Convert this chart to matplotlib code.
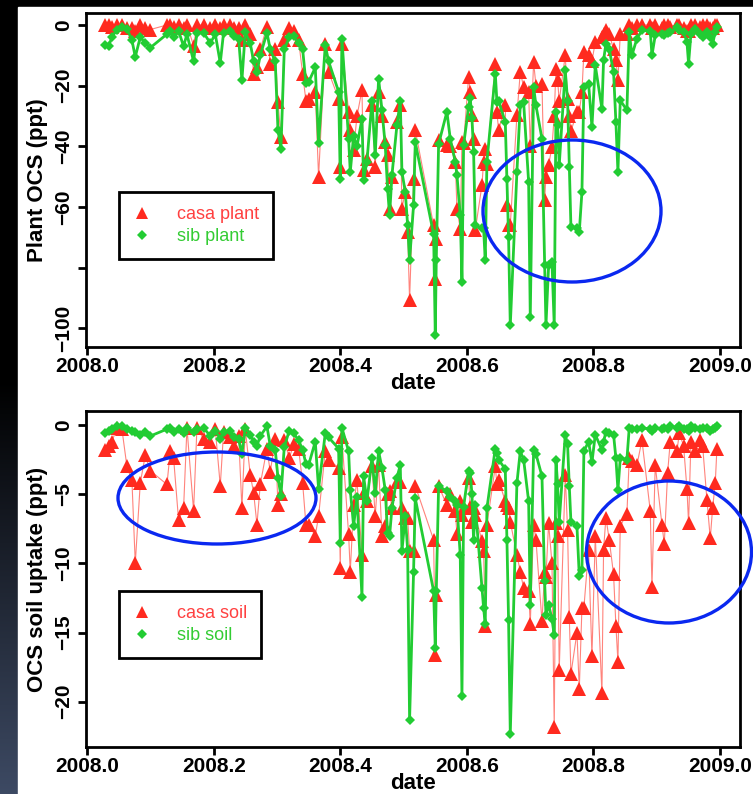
import numpy as np
import matplotlib
matplotlib.use('Agg')
import matplotlib.pyplot as plt
from matplotlib.lines import Line2D
from matplotlib.patches import Ellipse, Rectangle

# ---------------- data ----------------
dates = [
    2008.0285, 2008.0337, 2008.0390, 2008.0469, 2008.0548, 2008.0627, 2008.0706, 2008.0759, 2008.0838, 2008.0917,
    2008.0996, 2008.1260, 2008.1312, 2008.1365, 2008.1444, 2008.1523, 2008.1576, 2008.1681, 2008.1734, 2008.1839,
    2008.1945, 2008.2024, 2008.2103, 2008.2155, 2008.2261, 2008.2314, 2008.2393, 2008.2445, 2008.2498, 2008.2577,
    2008.2630, 2008.2683, 2008.2735, 2008.2841, 2008.2893, 2008.2972, 2008.3015, 2008.3062, 2008.3115, 2008.3194,
    2008.3262, 2008.3341, 2008.3405, 2008.3457,
    2008.3499, 2008.3605, 2008.3657, 2008.3763, 2008.3816, 2008.3974, 2008.4000, 2008.4026, 2008.4132, 2008.4158,
    2008.4211, 2008.4264, 2008.4343, 2008.4369, 2008.4422, 2008.4501, 2008.4553, 2008.4606, 2008.4659, 2008.4711,
    2008.4748, 2008.4780, 2008.4817, 2008.4896, 2008.4949, 2008.4975, 2008.5028, 2008.5065, 2008.5096, 2008.5159,
    2008.5186, 2008.5476, 2008.5502, 2008.5518, 2008.5555, 2008.5686, 2008.5739, 2008.5818, 2008.5845, 2008.5897,
    2008.5924, 2008.5950, 2008.6029, 2008.6055, 2008.6082, 2008.6108, 2008.6134, 2008.6240, 2008.6266, 2008.6292,
    2008.6319, 2008.6451, 2008.6477, 2008.6503, 2008.6609, 2008.6635, 2008.6661, 2008.6688, 2008.6793, 2008.6846,
    2008.6899, 2008.6978, 2008.7004, 2008.7057, 2008.7094, 2008.7189, 2008.7231, 2008.7252, 2008.7294, 2008.7347,
    2008.7383, 2008.7410, 2008.7436, 2008.7462, 2008.7557, 2008.7594, 2008.7621, 2008.7647, 2008.7742, 2008.7779,
    2008.7821, 2008.7852, 2008.7926, 2008.7979, 2008.8032, 2008.8137, 2008.8163, 2008.8200, 2008.8253, 2008.8321,
    2008.8358, 2008.8390, 2008.8427, 2008.8532, 2008.8569, 2008.8611, 2008.8690, 2008.8770, 2008.8901, 2008.8928,
    2008.8980, 2008.9086, 2008.9123, 2008.9175, 2008.9217, 2008.9323, 2008.9360, 2008.9428, 2008.9481, 2008.9507,
    2008.9544, 2008.9613, 2008.9692, 2008.9729, 2008.9797, 2008.9850, 2008.9887, 2008.9929, 2008.9955,
]

plant_casa = [
    0, 0, -0.5, 0, 0, -1, -1, -2, 0, -1,
    -1.5, 0, 0, -0.5, 0, -1, 0, -6.8, 0, 0,
    -1, 0, -1, 0, 0, -1, -1, -5, 0, -3,
    -16, -14, -8, -0.5, -13, -8, -25.4, -37, -5, -1,
    -2, -5, -16, -25,
    -24.3, -22, -50, -6.2, -15.5, -24.3, -46.8, -6.2, -28.7, -34.7,
    -41.3, -30, -21.5, -47.9, -44, -26.5, -46.8, -22, -30, -38.5,
    -42.9, -60.5, -50, -32, -26.5, -60.5, -55, -68.2, -90.7, -50.6,
    -34.7, -66, -83.6, -70.4, -38, -39.6, -40, -45, -60.5, -67.1,
    -38.5, -39, -17.1, -22, -29.8, -37.5, -67.7, -52.8, -45, -40.7,
    -45.7, -12.7, -28.7, -34.7, -26.5, -59.4, -66, -66, -29.8, -15.5,
    -20.4, -22, -40, -12.2, -20, -19.3, -57.8, -50, -46.2, -40.2,
    -30, -14.4, -18.2, -25, -10, -24.3, -30, -35, -28.7, -28.7,
    -22, -8.9, -10, -12, -5.6, -4, -3, -1.8, -3, -8,
    -11.6, -18.2, -3, -3, 0, -1, 0, 0, 0, -1,
    0, -1, 0, 0, -0.5, 0, 0, -1, -2, -2,
    0, 0, -0.5, 0, 0, -1, -1, 0, 0,
]

plant_sib = [
    -6.5, -7, -4, -1.5, -0.7, -1.2, -5, -10.5, -4, -6,
    -7.5, -3, -2, -4, -2, -7, -3, -12, -2.5, -2.5,
    -6, -3, -12.5, -2.5, -2, -3.5, -4.5, -18.2, -2.4, -6,
    -12, -15.5, -10, -2.6, -8, -12, -34.6, -40.7, -8, -4,
    -3.7, -6, -8, -19,
    -18.8, -14, -39, -6.7, -12, -22, -50.6, -4.5, -37.5, -48.4,
    -36.5, -40, -31, -51, -45, -25, -43, -17.7, -28, -39.6,
    -54, -62.7, -49.5, -33, -25, -48.4, -55, -66, -77.5, -59.4,
    -38.6, -69, -102, -77.5, -39.2, -28.6, -37.5, -45, -49.5, -62.7,
    -84.7, -39.6, -27, -24.2, -30.8, -41.8, -66, -67, -67, -77.5,
    -45, -16, -25.4, -25, -32, -50.6, -70, -99, -48.4, -26.4,
    -25.4, -51.7, -96.2, -20.4, -26.5, -37.5, -79.2, -99, -79.2, -78,
    -99, -28.7, -33, -46.2, -14.9, -25, -46.8, -66.6, -67, -68.2,
    -55, -20.4, -19.3, -33.6, -13.3, -27.6, -11.6, -6.2, -8, -15.5,
    -32, -48.4, -24.8, -28.1, -2.3, -10, -4.5, -1.8, -2, -10,
    -3.4, -3, -3.4, -2.5, -2.3, -0.7, -1.5, -2.3, -5.6, -12.7,
    -3, -1.2, -3, -4, -2.3, -4, -6.2, -2.3, -0.7,
]

soil_casa = [
    -1.8, -1.5, -1.2, -0.2, -0.3, -3, -4, -10, -4.2, -2.2,
    -3.3, -4.3, -1.9, -2.4, -6.9, -6.0, -0.2, -6.2, -0.2, -1.0,
    -1.2, -0.3, -4.4, -0.5, -0.9, -1.5, -0.8, -6.0, -0.3, -3.6,
    -4.9, -7.2, -4.3, -1.7, -3.4, -1.0, -5.8, -5.0, -1.1, -2.4,
    -1.4, -1.7, -4.2, -7.2,
    -7.2, -8.0, -6.6, -1.9, -2.5, -3.1, -10.3, -0.9, -7.9, -10.6,
    -5.8, -4.0, -9.4, -4.9, -5.5, -3.0, -6.6, -2.9, -8.0, -7.3,
    -5.0, -4.8, -6.0, -4.1, -4.1, -6.0, -6.7, -6.7, -9.1, -9.1,
    -4.4, -8.3, -16.6, -12.3, -4.4, -5.8, -5.0, -6.2, -7.9, -5.5,
    -6.5, -6.0, -3.8, -5.9, -7.0, -6.0, -6.5, -8.4, -9.1, -14.5,
    -7.2, -3.0, -4.3, -4.0, -5.5, -5.8, -6.0, -7.0, -9.4, -10.6,
    -11.8, -12, -14.4, -7.2, -8.3, -14.2, -10.6, -11, -7.1, -10,
    -21.8, -7.1, -8, -17.7, -3.6, -7.6, -13.9, -18.0, -15, -19.1,
    -13.2, -13.2, -9, -16.7, -8.0, -19.4, -9.0, -6.7, -8.3, -10.8,
    -14.5, -17.1, -7.3, -6.4, -2.4, -2.6, -2.9, -1.1, -6.2, -11.7,
    -2.9, -7.2, -8.6, -3.5, -1.2, -1.9, -0.6, -1.5, -4.6, -7.1,
    -1.2, -1.9, -1.1, -1.5, -5.4, -8.2, -6.0, -4.2, -1.7,
]

soil_sib = [
    -0.6, -0.4, -0.3, -0.1, -0.1, -0.3, -0.4, -0.5, -0.7, -0.5,
    -0.8, -0.3, -0.2, -0.5, -0.3, -0.6, -0.2, -0.5, -0.3, -0.2,
    -0.8, -0.4, -1.0, -0.5, -0.4, -0.9, -1.0, -2.1, -0.2, -0.7,
    -1.2, -1.5, -0.8, -0.1, -1.5, -1.8, -3.8, -5.1, -1.6, -0.4,
    -0.6, -1.1, -1.8, -2.8,
    -2.9, -1.2, -4.6, -0.6, -0.9, -1.7, -8.5, -0.2, -1.9, -4.7,
    -7.3, -5.2, -12.4, -3.7, -5.5, -2.4, -4.9, -1.9, -3.1, -4.7,
    -7.8, -8.0, -6.0, -3.8, -2.9, -9.1, -6.6, -9.0, -21.3, -10.6,
    -5.3, -12.0, -16.1, -12.0, -4.4, -4.8, -5.2, -5.5, -5.8, -9.4,
    -19.6, -5.9, -3.3, -3.5, -5.0, -8.3, -5.8, -11.8, -13.2, -14.4,
    -6.0, -1.7, -2.0, -2.5, -3.2, -8.3, -14.1, -22.3, -4.2, -1.9,
    -2.5, -5.5, -13.0, -1.8, -2.1, -3.7, -11.3, -13.7, -13.0, -14,
    -15.2, -2.5, -4.3, -7, -0.7, -1.4, -4.4, -7.0, -7.3, -10.9,
    -10.5, -1.9, -1.2, -2.7, -0.7, -1.8, -1.2, -0.5, -0.6, -0.7,
    -2.4, -4.7, -2.4, -2.5, -0.2, -0.3, -0.3, -0.2, -0.3, -0.4,
    -0.2, -0.3, -0.2, -0.3, -0.1, -0.2, -0.1, -0.3, -0.3, -0.4,
    -0.1, -0.2, -0.3, -0.2, -0.2, -0.4, -0.3, -0.2, -0.1,
]

x_ticks = [2008.0, 2008.2, 2008.4, 2008.6, 2008.8, 2009.0]
x_ticklabels = ['2008.0', '2008.2', '2008.4', '2008.6', '2008.8', '2009.0']
plant_yticks = [0, -20, -40, -60, -80, -100]
plant_yticklabels = ['0', '\u221220', '\u221240', '\u221260', '', '\u2212100']
soil_yticks = [0, -5, -10, -15, -20]
soil_yticklabels = ['0', '\u22125', '\u221210', '\u221215', '\u221220']

# ---------------- styling ----------------
plt.rcParams['font.family'] = ['Liberation Sans', 'DejaVu Sans']
W, H = 753, 794
RED = '#ff2a1f'
RED_LINE = '#ff5a50'
GREEN = '#22cc33'

fig = plt.figure(figsize=(W / 100, H / 100), dpi=100, facecolor='black')

# background (dark frame, white page, slate gradient strip)
bg = fig.add_axes([0, 0, 1, 1], zorder=0)
grad = np.zeros((H, 1, 3))
t = np.clip((np.arange(H) - 380) / (H - 380), 0, 1)
grad[:, 0, 0] = t * 0.24
grad[:, 0, 1] = t * 0.29
grad[:, 0, 2] = t * 0.39
bg.imshow(grad, extent=(0, 18, H, 0), aspect='auto', interpolation='bilinear')
bg.add_patch(Rectangle((18, 7), W - 18, H - 7, color='white', zorder=1))
bg.set_xlim(0, W)
bg.set_ylim(H, 0)
bg.axis('off')


def panel(rect, casa, sib, yticks, yticklabels, ylim, ylabel, labels, leg_xy):
    ax = fig.add_axes(rect, zorder=2)
    ax.plot(dates, casa, color=RED_LINE, lw=0.8, alpha=0.75, zorder=2)
    ax.plot(dates, casa, ls='none', marker='^', ms=9.5, color=RED, mew=0, zorder=3)
    ax.plot(dates, sib, color=GREEN, lw=2.0, marker='D', ms=5, mew=0, zorder=4)
    ax.set_xlim(2007.998, 2009.032)
    ax.set_ylim(*ylim)
    ax.set_xticks(x_ticks)
    ax.set_xticklabels(x_ticklabels, fontsize=15, fontweight='bold')
    ax.set_yticks(yticks)
    ax.set_yticklabels(yticklabels, fontsize=15, fontweight='bold', rotation=90, va='center')
    ax.tick_params(direction='out', length=6, width=2, color='black')
    ax.tick_params(axis='x', pad=1)
    ax.tick_params(axis='y', pad=3)
    for s in ax.spines.values():
        s.set_linewidth(2)
    ax.set_xlabel('date', fontsize=16, fontweight='bold', labelpad=-2)
    ax.set_ylabel(ylabel, fontsize=16, fontweight='bold', labelpad=5)
    handles = [Line2D([], [], ls='none', marker='^', ms=9, color=RED, mew=0),
               Line2D([], [], ls='none', marker='D', ms=5, color=GREEN, mew=0)]
    leg = ax.legend(handles, labels, loc='upper left',
                    bbox_to_anchor=(leg_xy[0] / W, 1 - leg_xy[1] / H),
                    bbox_transform=fig.transFigure, borderaxespad=0,
                    fontsize=13, frameon=True, fancybox=False, framealpha=1,
                    edgecolor='black', borderpad=0.8, handlelength=1.0,
                    handletextpad=1.4, labelspacing=0.25)
    leg.get_frame().set_linewidth(2)
    for txt, c in zip(leg.get_texts(), ['#ff4040', '#33cc33']):
        txt.set_color(c)
    return ax


panel([86 / W, 1 - 347 / H, 654 / W, 334 / H], plant_casa, plant_sib,
      plant_yticks, plant_yticklabels, (-106.1, 3.95), 'Plant OCS (ppt)',
      ['casa plant', 'sib plant'], (119, 192))
panel([86 / W, 1 - 747 / H, 654 / W, 336 / H], soil_casa, soil_sib,
      soil_yticks, soil_yticklabels, (-23.27, 1.01), 'OCS soil uptake (ppt)',
      ['casa soil', 'sib soil'], (119, 591))

# blue annotation ellipses
ov = fig.add_axes([0, 0, 1, 1], zorder=10)
ov.set_xlim(0, W)
ov.set_ylim(H, 0)
ov.axis('off')
ov.patch.set_alpha(0)
for (cx, cy, ew, eh) in [(572, 211, 178, 142), (217, 498, 198, 92), (669, 552, 165, 142)]:
    ov.add_patch(Ellipse((cx, cy), ew, eh, fill=False, edgecolor='#0a28f0', lw=2.4))

fig.savefig('out.png', dpi=100, facecolor=fig.get_facecolor())
